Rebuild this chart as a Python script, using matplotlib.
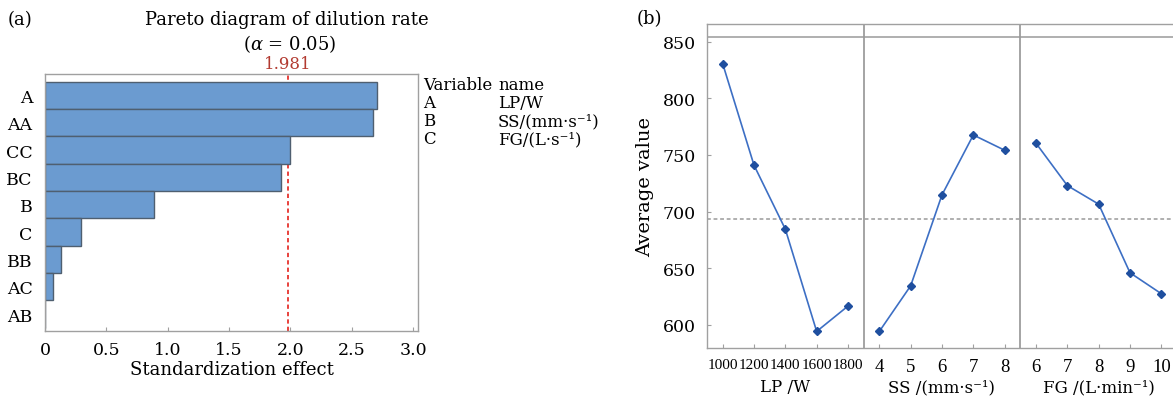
import matplotlib
matplotlib.use("Agg")
import matplotlib.pyplot as plt
import matplotlib.transforms as mtransforms
import numpy as np

plt.rcParams['font.family'] = ['DejaVu Serif']
plt.rcParams['mathtext.fontset'] = 'dejavuserif'

# ---- (a) Pareto chart of standardized effects ----
terms = ["A", "AA", "CC", "BC", "B", "C", "BB", "AC", "AB"]
effects = [2.709, 2.673, 1.995, 1.923, 0.886, 0.295, 0.131, 0.068, 0.0]
t_crit = 1.981
effect_ticks = [0, 0.5, 1.0, 1.5, 2.0, 2.5, 3.0]
effect_ticklabels = ["0", "0.5", "1.0", "1.5", "2.0", "2.5", "3.0"]
var_codes = ["A", "B", "C"]
var_names = ["LP/W", "SS/(mm\u00b7s\u207b\u00b9)", "FG/(L\u00b7s\u207b\u00b9)"]

# ---- (b) main effects of the three factors ----
lp_levels = ["1000", "1200", "1400", "1600", "1800"]
lp_means = [830.6, 740.9, 684.4, 594.1, 616.5]
ss_levels = ["4", "5", "6", "7", "8"]
ss_means = [594.1, 634.4, 714.7, 767.6, 754.1]
fg_levels = ["6", "7", "8", "9", "10"]
fg_means = [760.3, 722.9, 706.5, 645.9, 627.4]
factor_titles = ["LP /W", "SS /(mm\u00b7s\u207b\u00b9)", "FG /(L\u00b7min\u207b\u00b9)"]
y_ticks = [600, 650, 700, 750, 800, 850]

W, H = 1173, 402
fig = plt.figure(figsize=(W / 100, H / 100), dpi=100)


def box(x0, y0, x1, y1):
    """Axes rectangle from pixel edges measured from the top-left corner."""
    return [x0 / W, 1 - y1 / H, (x1 - x0) / W, (y1 - y0) / H]


frame_col = "#a0a0a0"
tick_fs = 12.5

# ---------------- panel (a) ----------------
ax1 = fig.add_axes(box(45, 75, 418, 332))
ypos = np.arange(len(terms))
ax1.axvline(t_crit, color="#e8413c", lw=1.4, ls=(0, (2.2, 1.6)), zorder=1)
ax1.barh(ypos, effects, height=1.0, color="#6b9bd0", edgecolor="#4f5f70",
         linewidth=1.0, zorder=2)
ax1.set_xlim(0, 3.04)
ax1.set_ylim(len(terms) - 0.5 + 0.12, -0.5 - 0.28)
ax1.set_yticks(ypos)
ax1.set_yticklabels(terms, fontsize=tick_fs)
ax1.set_xticks(effect_ticks)
ax1.set_xticklabels(effect_ticklabels, fontsize=tick_fs)
ax1.tick_params(axis="y", length=0, pad=9)
ax1.tick_params(axis="x", direction="in", length=3, color=frame_col, pad=7)
for s in ax1.spines.values():
    s.set_color(frame_col)
    s.set_linewidth(1.0)
ax1.set_xlabel("Standardization effect", fontsize=13, labelpad=2)

trans1 = mtransforms.blended_transform_factory(ax1.transData, ax1.transAxes)
ax1.text(t_crit, 1.04, f"{t_crit:.3f}", transform=trans1, ha="center",
         va="center", color="#b23a30", fontsize=12)

fig.text(287 / W, 1 - 20 / H, "Pareto diagram of dilution rate", ha="center",
         va="center", fontsize=13)
fig.text(290 / W, 1 - 44 / H, r"($\alpha$ = 0.05)", ha="center", va="center",
         fontsize=13)
fig.text(8 / W, 1 - 20 / H, "(a)", ha="left", va="center", fontsize=13)

# variable legend
fig.text(423 / W, 1 - 86 / H, "Variable", ha="left", va="center", fontsize=12)
fig.text(498 / W, 1 - 86 / H, "name", ha="left", va="center", fontsize=12)
for i, (c, n) in enumerate(zip(var_codes, var_names)):
    yy = 1 - (104 + 18 * i) / H
    fig.text(423 / W, yy, c, ha="left", va="center", fontsize=12)
    fig.text(498 / W, yy, n, ha="left", va="center", fontsize=12)

# ---------------- panel (b) ----------------
ax2 = fig.add_axes(box(707, 25, 1177, 349.3))
groups = [(lp_levels, lp_means), (ss_levels, ss_means), (fg_levels, fg_means)]
all_means = lp_means + ss_means + fg_means
grand_mean = float(np.mean(all_means))

xt, xl = [], []
for g, (levels, means) in enumerate(groups):
    xs = np.arange(len(levels)) + 1 + g * 5
    ax2.plot(xs, means, color="#3d6fc4", lw=1.2, marker="D", ms=4.5,
             mfc="#1f4f9f", mec="#1f4f9f", zorder=3)
    xt.extend(xs)
    xl.extend(levels)
for d in (5.5, 10.5):
    ax2.axvline(d, color="#8c8c8c", lw=1.1, zorder=1)
ax2.axhline(grand_mean, color="#9a9a9a", lw=1.1, ls=(0, (2.5, 1.8)), zorder=1)
ax2.axhline(853.9, color="#9a9a9a", lw=1.1, zorder=1)

ax2.set_xlim(0.5, 15.5)
ax2.set_ylim(579.2, 865.6)
ax2.set_yticks(y_ticks)
ax2.set_yticklabels([str(v) for v in y_ticks], fontsize=tick_fs)
ax2.set_xticks(xt)
ax2.set_xticklabels(xl)
# four-digit power levels sit close together, so they use a narrower face
for lab in ax2.get_xticklabels():
    if len(lab.get_text()) >= 4:
        lab.set_fontfamily("Liberation Serif")
        lab.set_fontsize(11)
    else:
        lab.set_fontfamily("Liberation Serif")
        lab.set_fontsize(13.5)
ax2.tick_params(axis="both", direction="in", length=3, color=frame_col)
ax2.tick_params(axis="x", pad=7)
ax2.tick_params(axis="y", pad=8)
for s in ax2.spines.values():
    s.set_color(frame_col)
    s.set_linewidth(1.0)
ax2.set_ylabel("Average value", fontsize=14, labelpad=6)

trans2 = mtransforms.blended_transform_factory(ax2.transData, ax2.transAxes)
for g, t in enumerate(factor_titles):
    ax2.text(3 + 5 * g, -0.118, t, transform=trans2, ha="center", va="center",
             fontsize=12)
fig.text(637 / W, 1 - 19 / H, "(b)", ha="left", va="center", fontsize=13)

fig.savefig("out.png", dpi=100)
